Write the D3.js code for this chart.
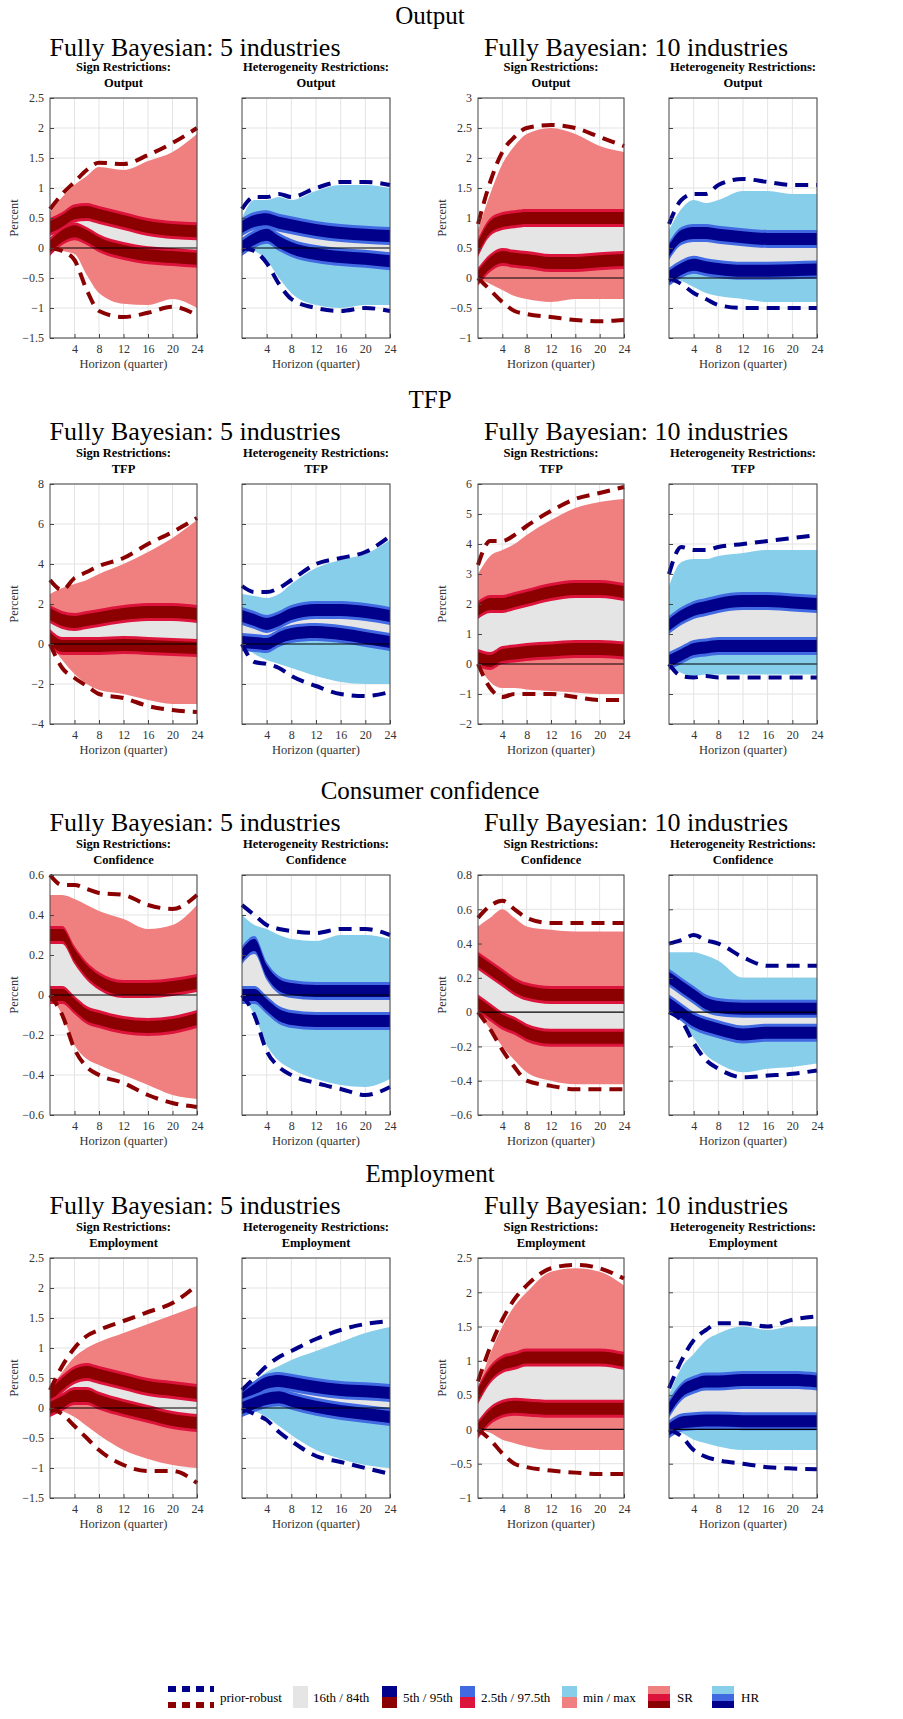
<!DOCTYPE html>
<html><head><meta charset="utf-8">
<script src="https://cdn.jsdelivr.net/npm/d3@7"></script>
<style>body{margin:0;background:#fff}text{font-family:"Liberation Serif",serif}</style>
</head><body><svg width="903" height="1719"></svg>
<script>
const horizons = [0, 2, 4, 6, 8, 12, 16, 20, 24];
const sections = ["Output", "TFP", "Consumer confidence", "Employment"];
const shortNames = ["Output", "TFP", "Confidence", "Employment"];
const groupTitles = ["Fully Bayesian: 5 industries", "Fully Bayesian: 10 industries"];
const xTicks = [4, 8, 12, 16, 20, 24];

// y domains per section: [5 industries, 10 industries]
const yDomains = [
	[[-1.5, 2.5], [-1, 3]],
	[[-4, 8], [-2, 6]],
	[[-0.6, 0.6], [-0.6, 0.8]],
	[[-1.5, 2.5], [-1, 2.5]]
];
const yTicks = [
	[[-1.5, -1, -0.5, 0, 0.5, 1, 1.5, 2, 2.5], [-1, -0.5, 0, 0.5, 1, 1.5, 2, 2.5, 3]],
	[[-4, -2, 0, 2, 4, 6, 8], [-2, -1, 0, 1, 2, 3, 4, 5, 6]],
	[[-0.6, -0.4, -0.2, 0, 0.2, 0.4, 0.6], [-0.6, -0.4, -0.2, 0, 0.2, 0.4, 0.6, 0.8]],
	[[-1.5, -1, -0.5, 0, 0.5, 1, 1.5, 2, 2.5], [-1, -0.5, 0, 0.5, 1, 1.5, 2, 2.5]]
];

// panel series: hi/lo = bound medians, mx/mn = min/max, dU/dL = prior-robust dashed
const outSR5 = {hi:[0.35,0.45,0.58,0.6,0.55,0.45,0.35,0.3,0.28], lo:[0.02,0.2,0.28,0.2,0.08,-0.05,-0.12,-0.15,-0.18], mx:[0.6,0.85,1.05,1.2,1.35,1.3,1.45,1.6,1.9], mn:[0,-0.05,-0.1,-0.45,-0.75,-0.93,-0.95,-0.85,-1.0], dU:[0.65,0.9,1.1,1.3,1.42,1.4,1.55,1.75,2.0], dL:[0,-0.05,-0.2,-0.7,-1.05,-1.15,-1.08,-0.98,-1.12]};
const outHR5 = {hi:[0.35,0.45,0.48,0.42,0.38,0.3,0.25,0.22,0.2], lo:[0.02,0.15,0.22,0.1,0,-0.1,-0.15,-0.18,-0.22], mx:[0.5,0.8,0.8,0.85,0.8,0.95,1.05,1.05,1.0], mn:[0,-0.05,-0.2,-0.5,-0.75,-0.95,-1,-0.95,-0.95], dU:[0.65,0.85,0.85,0.9,0.85,1.0,1.1,1.1,1.05], dL:[0,-0.05,-0.25,-0.6,-0.85,-1.0,-1.05,-1.0,-1.05]};
const outSR10 = {hi:[0.5,0.85,0.95,0.98,1.0,1.0,1.0,1.0,1.0], lo:[0.02,0.25,0.35,0.32,0.3,0.25,0.25,0.28,0.3], mx:[0.8,1.4,1.9,2.2,2.4,2.5,2.4,2.2,2.1], mn:[0,-0.1,-0.2,-0.3,-0.35,-0.4,-0.35,-0.35,-0.35], dU:[0.9,1.6,2.1,2.35,2.5,2.55,2.5,2.35,2.2], dL:[0,-0.2,-0.4,-0.55,-0.6,-0.65,-0.7,-0.72,-0.7]};
const outHR10 = {hi:[0.45,0.7,0.75,0.75,0.72,0.68,0.65,0.65,0.65], lo:[0.02,0.15,0.22,0.18,0.15,0.12,0.12,0.13,0.14], mx:[0.8,1.15,1.3,1.25,1.3,1.45,1.45,1.4,1.4], mn:[0,-0.05,-0.15,-0.25,-0.3,-0.35,-0.4,-0.4,-0.4], dU:[0.9,1.3,1.4,1.4,1.55,1.65,1.6,1.55,1.55], dL:[0,-0.1,-0.25,-0.35,-0.45,-0.5,-0.5,-0.5,-0.5]};

const tfpSR5 = {hi:[1.5,1.2,1.1,1.2,1.3,1.5,1.6,1.6,1.5], lo:[0.3,-0.1,-0.1,-0.1,-0.1,-0.05,-0.1,-0.15,-0.2], mx:[2.5,2.8,3.0,3.2,3.5,4.0,4.6,5.3,6.2], mn:[0,-0.8,-1.5,-2,-2.3,-2.5,-2.8,-3.0,-3.0], dU:[3.2,2.7,3.3,3.6,3.9,4.3,5.0,5.6,6.3], dL:[0,-1.2,-1.7,-2.1,-2.5,-2.7,-3.1,-3.3,-3.4]};
const tfpHR5 = {hi:[1.4,1.2,1.0,1.2,1.5,1.7,1.7,1.6,1.4], lo:[0.1,0.05,0,0.3,0.5,0.6,0.5,0.3,0.1], mx:[2.5,2.4,2.3,2.5,3.0,3.8,4.2,4.5,5.2], mn:[0,-0.5,-0.8,-1.0,-1.2,-1.6,-1.9,-2.0,-2.0], dU:[2.9,2.6,2.6,2.8,3.2,4.0,4.3,4.6,5.4], dL:[0,-0.9,-1.0,-1.2,-1.6,-2.1,-2.5,-2.6,-2.4]};
const tfpSR10 = {hi:[1.8,2.0,2.0,2.1,2.2,2.4,2.5,2.5,2.4], lo:[0.2,0.1,0.3,0.35,0.4,0.45,0.5,0.5,0.45], mx:[3.0,3.6,3.8,4.0,4.3,4.8,5.2,5.4,5.5], mn:[0,-0.6,-0.8,-0.8,-0.85,-0.9,-0.95,-1.0,-1.0], dU:[3.3,4.1,4.1,4.3,4.6,5.1,5.5,5.7,5.9], dL:[0,-0.8,-1.1,-1.0,-1.0,-1.0,-1.1,-1.2,-1.2]};
const tfpHR10 = {hi:[1.3,1.6,1.8,1.9,2.0,2.1,2.1,2.05,2.0], lo:[0.1,0.3,0.5,0.55,0.6,0.6,0.6,0.6,0.6], mx:[2.6,3.4,3.5,3.5,3.6,3.7,3.8,3.8,3.8], mn:[0,-0.3,-0.4,-0.35,-0.35,-0.35,-0.35,-0.35,-0.35], dU:[3.0,3.9,3.8,3.8,3.9,4.0,4.1,4.2,4.3], dL:[0,-0.4,-0.45,-0.4,-0.45,-0.45,-0.45,-0.45,-0.45]};

const confSR5 = {hi:[0.3,0.3,0.2,0.12,0.07,0.03,0.03,0.04,0.06], lo:[0,0,-0.05,-0.1,-0.12,-0.15,-0.16,-0.15,-0.12], mx:[0.5,0.5,0.48,0.45,0.42,0.38,0.33,0.35,0.45], mn:[0,-0.1,-0.25,-0.32,-0.35,-0.4,-0.45,-0.5,-0.52], dU:[0.6,0.55,0.55,0.53,0.51,0.5,0.45,0.43,0.5], dL:[0,-0.1,-0.27,-0.36,-0.4,-0.44,-0.5,-0.54,-0.56]};
const confHR5 = {hi:[0.2,0.25,0.12,0.05,0.03,0.02,0.02,0.02,0.02], lo:[0,0,-0.05,-0.1,-0.12,-0.13,-0.13,-0.13,-0.13], mx:[0.4,0.35,0.33,0.3,0.28,0.27,0.3,0.3,0.28], mn:[0,-0.1,-0.25,-0.33,-0.37,-0.42,-0.45,-0.46,-0.42], dU:[0.45,0.4,0.35,0.33,0.32,0.31,0.33,0.33,0.3], dL:[0,-0.1,-0.28,-0.36,-0.4,-0.44,-0.47,-0.5,-0.46]};
const confSR10 = {hi:[0.3,0.25,0.2,0.15,0.12,0.1,0.1,0.1,0.1], lo:[0.05,0,-0.05,-0.08,-0.12,-0.15,-0.15,-0.15,-0.15], mx:[0.5,0.55,0.6,0.55,0.5,0.48,0.47,0.47,0.47], mn:[0,-0.1,-0.2,-0.28,-0.35,-0.4,-0.42,-0.42,-0.42], dU:[0.55,0.62,0.65,0.6,0.55,0.52,0.52,0.52,0.52], dL:[0,-0.1,-0.22,-0.32,-0.4,-0.43,-0.45,-0.45,-0.45]};
const confHR10 = {hi:[0.2,0.15,0.1,0.05,0.03,0.02,0.02,0.02,0.02], lo:[0.05,0,-0.05,-0.08,-0.1,-0.13,-0.12,-0.12,-0.12], mx:[0.35,0.35,0.35,0.33,0.3,0.2,0.2,0.2,0.2], mn:[0,-0.05,-0.15,-0.25,-0.3,-0.35,-0.33,-0.32,-0.3], dU:[0.4,0.42,0.45,0.42,0.4,0.32,0.27,0.27,0.27], dL:[0,-0.05,-0.18,-0.28,-0.33,-0.38,-0.37,-0.36,-0.34]};

const empSR5 = {hi:[0.2,0.4,0.55,0.6,0.55,0.45,0.35,0.3,0.25], lo:[0,0.1,0.2,0.2,0.12,0,-0.1,-0.2,-0.25], mx:[0.3,0.6,0.85,1.0,1.1,1.25,1.4,1.55,1.7], mn:[0,-0.05,-0.15,-0.3,-0.45,-0.7,-0.85,-0.95,-1.0], dU:[0.3,0.7,1.0,1.2,1.3,1.45,1.6,1.75,2.05], dL:[0,-0.1,-0.3,-0.5,-0.7,-0.95,-1.05,-1.05,-1.25]};
const empHR5 = {hi:[0.15,0.3,0.42,0.45,0.42,0.35,0.3,0.28,0.25], lo:[0,0.08,0.15,0.18,0.12,0.02,-0.05,-0.1,-0.15], mx:[0.3,0.45,0.6,0.7,0.8,0.95,1.1,1.25,1.35], mn:[0,-0.05,-0.15,-0.3,-0.45,-0.7,-0.85,-0.95,-1.0], dU:[0.3,0.5,0.7,0.85,0.95,1.15,1.3,1.4,1.45], dL:[0,-0.1,-0.2,-0.4,-0.55,-0.8,-0.9,-1.0,-1.1]};
const empSR10 = {hi:[0.5,0.8,0.95,1.0,1.05,1.05,1.05,1.05,1.0], lo:[0,0.2,0.3,0.33,0.32,0.3,0.3,0.3,0.3], mx:[0.6,1.1,1.5,1.8,2.0,2.3,2.35,2.3,2.1], mn:[0,-0.05,-0.15,-0.2,-0.25,-0.3,-0.3,-0.3,-0.3], dU:[0.7,1.2,1.6,1.9,2.1,2.35,2.4,2.35,2.2], dL:[0,-0.15,-0.35,-0.5,-0.55,-0.6,-0.63,-0.65,-0.65]};
const empHR10 = {hi:[0.3,0.55,0.65,0.7,0.7,0.72,0.72,0.72,0.7], lo:[0,0.1,0.12,0.13,0.13,0.12,0.12,0.12,0.12], mx:[0.5,0.9,1.1,1.3,1.4,1.5,1.45,1.5,1.5], mn:[0,-0.05,-0.15,-0.2,-0.25,-0.3,-0.3,-0.3,-0.3], dU:[0.6,1.0,1.3,1.45,1.55,1.55,1.5,1.6,1.65], dL:[0,-0.1,-0.3,-0.4,-0.45,-0.5,-0.55,-0.57,-0.58]};

const panels = [
	[outSR5, outHR5, outSR10, outHR10],
	[tfpSR5, tfpHR5, tfpSR10, tfpHR10],
	[confSR5, confHR5, confSR10, confHR10],
	[empSR5, empHR5, empSR10, empHR10]
];

const colors = {
	SR: {light: "#f08080", mid: "#dc143c", dark: "#8b0000"},
	HR: {light: "#87ceeb", mid: "#4169e1", dark: "#00008b"}
};
const gray = "#e5e5e5";

const svg = d3.select("svg");
const panelX = [[50, 197], [242, 390], [478, 624], [669, 817]];
const rowTop = [98, 484, 875, 1258];
const rowH = 240;
const sectionY = [24, 408, 799, 1182];

sections.forEach((sec, r) => {
	svg.append("text").attr("x", 430).attr("y", sectionY[r]).attr("text-anchor", "middle")
		.attr("font-size", 25).text(sec);
	groupTitles.forEach((g, gi) => {
		svg.append("text").attr("x", gi ? 636 : 195).attr("y", sectionY[r] + 32)
			.attr("text-anchor", "middle").attr("font-size", 26).text(g);
	});

	panels[r].forEach((p, c) => {
		const gi = c < 2 ? 0 : 1;
		const kind = c % 2 ? "HR" : "SR";
		const col = colors[kind];
		const [x0, x1] = panelX[c];
		const top = rowTop[r];
		const x = d3.scaleLinear().domain([0, 24]).range([x0, x1]);
		const y = d3.scaleLinear().domain(yDomains[r][gi]).range([top + rowH, top]);
		const pts = horizons.map((h, i) => ({h, hi: p.hi[i], lo: p.lo[i], mx: p.mx[i], mn: p.mn[i], dU: p.dU[i], dL: p.dL[i]}));
		const g = svg.append("g");

		g.append("text").attr("x", (x0 + x1) / 2).attr("y", top - 27).attr("text-anchor", "middle")
			.attr("font-size", 12.5).attr("font-weight", "bold")
			.text(kind === "SR" ? "Sign Restrictions:" : "Heterogeneity Restrictions:");
		g.append("text").attr("x", (x0 + x1) / 2).attr("y", top - 11).attr("text-anchor", "middle")
			.attr("font-size", 12.5).attr("font-weight", "bold").text(shortNames[r]);

		// grid
		g.append("g").selectAll("line").data(xTicks).join("line")
			.attr("x1", d => x(d)).attr("x2", d => x(d)).attr("y1", top).attr("y2", top + rowH)
			.attr("stroke", "#e3e3e3");
		g.append("g").selectAll("line").data(yTicks[r][gi]).join("line")
			.attr("x1", x0).attr("x2", x1).attr("y1", d => y(d)).attr("y2", d => y(d))
			.attr("stroke", "#e3e3e3");

		const curve = d3.curveMonotoneX;
		const band = (a, b) => d3.area().curve(curve).x(d => x(d.h)).y0(a).y1(b);
		g.append("path").datum(pts).attr("fill", col.light).attr("d", band(d => y(d.mn), d => y(d.mx)));
		g.append("path").datum(pts).attr("fill", gray).attr("d", band(d => y(d.lo), d => y(d.hi)));
		["hi", "lo"].forEach(k => {
			g.append("path").datum(pts).attr("fill", col.mid).attr("d", band(d => y(d[k]) + 9, d => y(d[k]) - 9));
			g.append("path").datum(pts).attr("fill", col.dark).attr("d", band(d => y(d[k]) + 6, d => y(d[k]) - 6));
		});
		g.append("line").attr("x1", x0).attr("x2", x1).attr("y1", y(0)).attr("y2", y(0))
			.attr("stroke", "#000").attr("stroke-width", 1.2);
		["dU", "dL"].forEach(k => {
			g.append("path").datum(pts).attr("fill", "none").attr("stroke", col.dark)
				.attr("stroke-width", 4).attr("stroke-dasharray", "13,8")
				.attr("d", d3.line().curve(curve).x(d => x(d.h)).y(d => y(d[k])));
		});

		// axes box
		const ax = g.append("g").attr("transform", `translate(0,${top + rowH})`)
			.call(d3.axisBottom(x).tickValues(xTicks).tickSize(-4).tickPadding(6));
		ax.select(".domain").remove();
		ax.selectAll("text").attr("font-size", 12).attr("fill", "#333").style("font-family", "Liberation Serif");
		ax.selectAll("line").attr("stroke", "#444");
		const ay = g.append("g").attr("transform", `translate(${x0},0)`)
			.call(d3.axisLeft(y).tickValues(yTicks[r][gi]).tickSize(-4).tickPadding(6).tickFormat(d3.format("")));
		ay.select(".domain").remove();
		ay.selectAll("line").attr("stroke", "#444");
		if (c % 2) ay.selectAll("text").remove();
		else ay.selectAll("text").attr("font-size", 12).attr("fill", "#333").style("font-family", "Liberation Serif");
		g.append("rect").attr("x", x0).attr("y", top).attr("width", x1 - x0).attr("height", rowH)
			.attr("fill", "none").attr("stroke", "#444").attr("stroke-width", 1);

		g.append("text").attr("x", (x0 + x1) / 2).attr("y", top + rowH + 30).attr("text-anchor", "middle")
			.attr("font-size", 12.5).attr("fill", "#333").text("Horizon (quarter)");
		if (!(c % 2)) {
			g.append("text").attr("transform", `translate(${x0 - 32},${top + rowH / 2}) rotate(-90)`)
				.attr("text-anchor", "middle").attr("font-size", 12.5).attr("fill", "#333").text("Percent");
		}
	});
});

// legend
const leg = svg.append("g").attr("transform", "translate(0,1697)");
const sw = (x, cTop, cBot) => {
	leg.append("rect").attr("x", x).attr("y", -11).attr("width", 15).attr("height", 11).attr("fill", cTop);
	leg.append("rect").attr("x", x).attr("y", 0).attr("width", 15).attr("height", 11).attr("fill", cBot);
};
[0, 1].forEach(i => {
	leg.append("line").attr("x1", 168).attr("x2", 214).attr("y1", i ? 8 : -8).attr("y2", i ? 8 : -8)
		.attr("stroke", i ? colors.SR.dark : colors.HR.dark).attr("stroke-width", 6).attr("stroke-dasharray", "8,6");
});
const lt = (x, t) => leg.append("text").attr("x", x).attr("y", 5).attr("font-size", 13).text(t);
lt(220, "prior-robust");
leg.append("rect").attr("x", 293).attr("y", -11).attr("width", 15).attr("height", 22).attr("fill", gray);
lt(313, "16th / 84th");
sw(382, colors.HR.dark, colors.SR.dark); lt(403, "5th / 95th");
sw(460, colors.HR.mid, colors.SR.mid); lt(481, "2.5th / 97.5th");
sw(562, colors.HR.light, colors.SR.light); lt(583, "min / max");
leg.append("rect").attr("x", 648).attr("y", -11).attr("width", 22).attr("height", 8).attr("fill", colors.SR.light);
leg.append("rect").attr("x", 648).attr("y", -3).attr("width", 22).attr("height", 7).attr("fill", colors.SR.mid);
leg.append("rect").attr("x", 648).attr("y", 4).attr("width", 22).attr("height", 7).attr("fill", colors.SR.dark);
lt(677, "SR");
leg.append("rect").attr("x", 712).attr("y", -11).attr("width", 22).attr("height", 8).attr("fill", colors.HR.light);
leg.append("rect").attr("x", 712).attr("y", -3).attr("width", 22).attr("height", 7).attr("fill", colors.HR.mid);
leg.append("rect").attr("x", 712).attr("y", 4).attr("width", 22).attr("height", 7).attr("fill", colors.HR.dark);
lt(741, "HR");
</script></body></html>
